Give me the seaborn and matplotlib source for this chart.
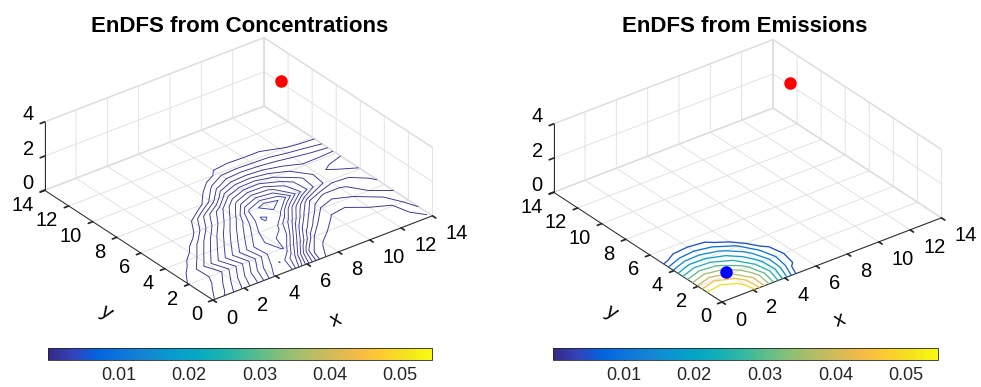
import numpy as np
import matplotlib
matplotlib.use("Agg")
import matplotlib.pyplot as plt
import matplotlib.colors as mcolors
import matplotlib.cm as mcm
import matplotlib.ticker as mticker
import seaborn as sns

sns.set_theme(style="white")
plt.rcParams["font.family"] = ["Liberation Sans", "DejaVu Sans"]
plt.rcParams["grid.color"] = "#dedede"
plt.rcParams["grid.linewidth"] = 0.6
if "axes3d.automargin" in plt.rcParams:
    plt.rcParams["axes3d.automargin"] = False

# ---------------- data ----------------
grid_x = list(range(15))
grid_y = list(range(15))

# concentration-based EnDFS, rows are y = 0..14, columns x = 0..14 (units of conc_unit)
conc_field_units = [
    [1.85, 3.4, 5.3, 7.3, 10.2, 10.3, 5.5, 1.1, 0.6, 0.3, 0.2, 0.2, 0.2, 0.3, 0.95],
    [1.5, 2.2, 4.2, 6.5, 9.0, 11.05, 8.0, 2.4, 0.6, 0.4, 0.3, 0.3, 0.3, 0.6, 1.9],
    [1.1, 1.7, 2.8, 5.0, 7.4, 10.0, 11.1, 6.5, 2.0, 0.8, 0.4, 0.4, 0.5, 0.9, 2.5],
    [0.3, 1.5, 3.6, 5.8, 8.0, 10.2, 11.5, 10.0, 5.0, 2.0, 0.8, 0.7, 1.3, 1.8, 2.8],
    [0.0, 0.4, 1.9, 4.2, 6.5, 8.8, 11.0, 11.6, 8.5, 4.5, 1.8, 1.5, 2.0, 3.0, 3.7],
    [0.0, 0.0, 0.3, 2.4, 4.8, 7.2, 9.6, 12.15, 11.6, 7.5, 4.0, 2.6, 2.8, 3.4, 4.2],
    [0.0, 0.0, 0.0, 0.0, 2.6, 5.2, 7.8, 11.4, 12.6, 11.8, 8.5, 6.0, 4.4, 4.3, 4.9],
    [0.0, 0.0, 0.0, 0.0, 1.0, 3.6, 6.0, 8.5, 9.7, 9.4, 7.8, 6.2, 4.6, 5.3, 5.7],
    [0.0, 0.0, 0.0, 0.0, 0.0, 0.0, 2.3, 5.6, 6.7, 6.8, 6.0, 5.0, 4.2, 4.3, 4.6],
    [0.0, 0.0, 0.0, 0.0, 0.0, 0.0, 0.4, 2.5, 3.8, 4.0, 3.8, 3.4, 3.0, 2.7, 2.3],
    [0.0, 0.0, 0.0, 0.0, 0.0, 0.0, 0.0, 0.2, 1.4, 1.6, 1.5, 1.5, 1.1, 0.8, 0.7],
    [0.0, 0.0, 0.0, 0.0, 0.0, 0.0, 0.0, 0.0, 0.4, 0.5, 0.5, 0.5, 0.3, 0.2, 0.1],
    [0.0] * 15,
    [0.0] * 15,
    [0.0] * 15,
]
conc_unit = 2.5e-4
conc_levels_units = [1, 2, 3, 4, 5, 6, 7, 8, 9, 10, 11, 12]

# emission-based EnDFS, rows are y = 0..14, columns x = 0..14
emis_field = [
    [0.0540, 0.0545, 0.0517, 0.0352, 0.0175, 0.0, 0, 0, 0, 0, 0, 0, 0, 0, 0],
    [0.0531, 0.0542, 0.0488, 0.0370, 0.0226, 0.0069, 0, 0, 0, 0, 0, 0, 0, 0, 0],
    [0.0407, 0.0444, 0.0408, 0.0325, 0.0213, 0.0095, 0, 0, 0, 0, 0, 0, 0, 0, 0],
    [0.0283, 0.0325, 0.0309, 0.0251, 0.0170, 0.0070, 0, 0, 0, 0, 0, 0, 0, 0, 0],
    [0.0157, 0.0203, 0.0200, 0.0168, 0.0110, 0.0, 0, 0, 0, 0, 0, 0, 0, 0, 0],
    [0.0032, 0.0080, 0.0095, 0.0075, 0.0010, 0.0, 0, 0, 0, 0, 0, 0, 0, 0, 0],
] + [[0.0] * 15 for _ in range(9)]
emis_levels = [0.005, 0.010, 0.015, 0.020, 0.025, 0.030, 0.035, 0.040, 0.045, 0.050]

color_limits = [0.0, 0.0545]
colorbar_ticks = [0.01, 0.02, 0.03, 0.04, 0.05]
colorbar_labels = ["0.01", "0.02", "0.03", "0.04", "0.05"]

true_source = [12, 10, 4]
estimated_source = [2, 2.3, 0]

axis_ticks_xy = [0, 2, 4, 6, 8, 10, 12, 14]
axis_ticks_z = [0, 2, 4]

# ---------------- style ----------------
parula_anchors = [
    (0.2081, 0.1663, 0.5292), (0.1959, 0.2645, 0.7279), (0.0117, 0.3875, 0.8820),
    (0.0498, 0.4586, 0.8641), (0.0793, 0.5200, 0.8312), (0.0343, 0.5966, 0.8199),
    (0.0228, 0.6535, 0.7768), (0.0843, 0.6928, 0.7062), (0.2178, 0.7250, 0.6193),
    (0.3953, 0.7459, 0.5244), (0.5709, 0.7485, 0.4494), (0.7184, 0.7411, 0.3905),
    (0.8507, 0.7299, 0.3360), (0.9739, 0.7314, 0.2666), (0.9880, 0.8066, 0.1794),
    (0.9589, 0.8949, 0.1132), (0.9763, 0.9831, 0.0538),
]
parula = sns.blend_palette(parula_anchors, n_colors=256, as_cmap=True)
norm = mcolors.Normalize(*color_limits)

W, H = 981, 387
AX_DARK = "#262626"
GRID = "#dedede"
X_AXIS_PX = 235.0
TICK_FS = 14.5

fig = plt.figure(figsize=(W / 100, H / 100), dpi=100)
fig.patch.set_facecolor("white")

X, Y = np.meshgrid(grid_x, grid_y)
conc = np.array(conc_field_units) * conc_unit
conc_levels = np.array(conc_levels_units) * conc_unit
emis = np.array(emis_field)

panels = [
    dict(title="EnDFS from Concentrations", field=conc, levels=conc_levels, lw=0.65,
         markers=[(true_source, "red")], origin=(213, 300), title_x=239.5,
         xlabel_at=(336, 320), ylabel_at=(106, 312),
         cbar=(48, 432), rect=[0.0, 0.0, 0.47, 1.0]),
    dict(title="EnDFS from Emissions", field=emis, levels=emis_levels, lw=0.95,
         markers=[(true_source, "red"), (estimated_source, "blue")],
         origin=(722, 302), title_x=745,
         xlabel_at=(840, 320), ylabel_at=(611, 312),
         cbar=(553, 938), rect=[0.5, 0.0, 0.47, 1.0]),
]

axes = []
for p in panels:
    ax = fig.add_axes(p["rect"], projection="3d", computed_zorder=False)
    ax.set_facecolor((1, 1, 1, 0))
    ax.set_proj_type("ortho")
    ax.view_init(elev=30, azim=-127.5)
    ax.set_box_aspect((14, 14, 4))
    ax.contour(X, Y, p["field"], levels=p["levels"], cmap=parula, norm=norm,
               zdir="z", offset=0, linewidths=p["lw"], zorder=2)
    for pt, c in p["markers"]:
        ax.plot([pt[0]], [pt[1]], [pt[2]], "o", color=c, mec=c, ms=8, zorder=5)
    ax.set_xlim(0, 14)
    ax.set_ylim(0, 14)
    ax.set_zlim(0, 4)
    ax.set_xticks(axis_ticks_xy)
    ax.set_yticks(axis_ticks_xy)
    ax.set_zticks(axis_ticks_z)
    for axis in (ax.xaxis, ax.yaxis, ax.zaxis):
        axis.set_major_formatter(mticker.NullFormatter())
        axis.set_pane_color((1, 1, 1, 1))
        axis.pane.set_edgecolor(GRID)
        axis.line.set_color(AX_DARK)
        axis.line.set_linewidth(0.7)
        axis._axinfo["tick"]["inward_factor"] = 0.25
        axis._axinfo["tick"]["outward_factor"] = 0.0
        axis._axinfo["grid"]["color"] = GRID
        axis._axinfo["grid"]["linewidth"] = 0.6
    ax.tick_params(colors=AX_DARK)
    axes.append(ax)

    fig.text(p["title_x"] / W, 1 - 32 / H, p["title"], ha="center", va="baseline",
             fontsize=16, fontweight="bold", color="black")
    # axis names laid along their axes
    fig.text(p["xlabel_at"][0] / W, 1 - p["xlabel_at"][1] / H, "x", ha="center",
             va="center", rotation=20.7, fontsize=15, color="black")
    fig.text(p["ylabel_at"][0] / W, 1 - p["ylabel_at"][1] / H, "y", ha="center",
             va="center", rotation=-33.5, fontsize=15, color="black")

    x0, x1 = p["cbar"]
    cax = fig.add_axes([x0 / W, (H - 360) / H, (x1 - x0) / W, 12 / H])
    cb = fig.colorbar(mcm.ScalarMappable(norm=norm, cmap=parula), cax=cax,
                      orientation="horizontal", ticks=colorbar_ticks)
    cb.set_ticklabels(colorbar_labels)
    cb.outline.set_edgecolor(AX_DARK)
    cb.outline.set_linewidth(0.6)
    cax.tick_params(direction="in", length=3.5, width=0.6, color=AX_DARK,
                    labelsize=13, pad=5, bottom=True, top=False)


def project_px(ax, pt):
    M = ax.get_proj()
    v = M @ np.array([pt[0], pt[1], pt[2], 1.0])
    return ax.transData.transform((v[0] / v[3], v[1] / v[3]))


# scale each box so its x axis spans the intended length, then place the front corner
fig.canvas.draw()
for ax in axes:
    o = project_px(ax, (0, 0, 0))
    e = project_px(ax, (14, 0, 0))
    ax.set_box_aspect((14, 14, 4), zoom=X_AXIS_PX / np.hypot(*(e - o)))
fig.canvas.draw()
for ax, p in zip(axes, panels):
    o = project_px(ax, (0, 0, 0))
    tx, ty = p["origin"][0], H - p["origin"][1]
    pos = ax.get_position(original=True)
    ax.set_position([pos.x0 + (tx - o[0]) / W, pos.y0 + (ty - o[1]) / H,
                     pos.width, pos.height])
fig.canvas.draw()

# tick labels set beside the projected tick positions
for ax in axes:
    for v in axis_ticks_xy:
        px, py = project_px(ax, (v, 0, 0))
        fig.text((px + 13) / W, (py - 18) / H, str(v), ha="left", va="center",
                 fontsize=TICK_FS, color="black")
        px, py = project_px(ax, (0, v, 0))
        fig.text((px - 11) / W, (py - 15) / H, str(v), ha="right", va="center",
                 fontsize=TICK_FS, color="black")
    for v in axis_ticks_z:
        px, py = project_px(ax, (0, 14, v))
        fig.text((px - 11) / W, (py + 7) / H, str(v), ha="right", va="center",
                 fontsize=TICK_FS, color="black")

fig.savefig("out.png", dpi=100)
